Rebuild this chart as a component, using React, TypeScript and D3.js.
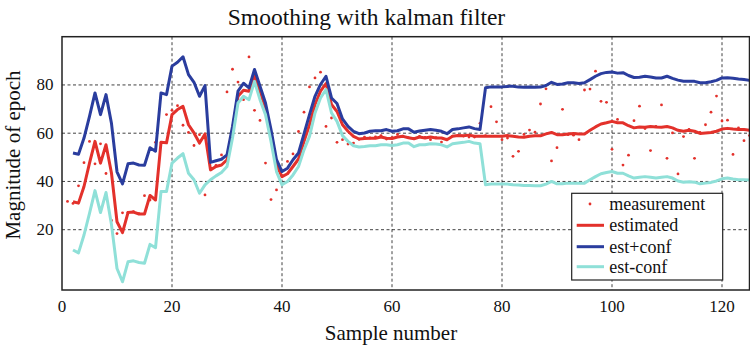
import React from "react";
import * as d3 from "d3";

const sampleStart = 2;
const measureStart = 1;

const measurement = [
  31.7, 30.9, 38.2, 47.8, 56.6, 47.3, 55.6, 43.3, 23.8, 18.4,
  27.0, 27.2, 27.5, 26.6, 34.1, 32.3, 56.2, 56.0, 67.7, 69.5,
  71.4, 63.3, 60.3, 54.9, 59.4, 34.4, 45.5, 46.7, 51.0, 77.1,
  86.5, 81.2, 73.9, 91.6, 69.5, 65.3, 47.6, 32.5, 36.5, 42.0,
  48.3, 51.4, 60.7, 68.7, 79.2, 82.9, 85.3, 62.8, 66.3, 56.2,
  57.3, 55.5, 55.9, 57.5, 58.4, 58.0, 58.5, 59.0, 57.6, 58.2,
  59.5, 58.8, 58.2, 57.8, 58.7, 58.3, 57.3, 58.2, 56.3, 57.5,
  58.8, 59.0, 58.8, 58.4, 58.4, 64.1, 59.0, 71.0, 64.7, 57.3,
  58.0, 50.4, 52.5, 59.5, 61.3, 60.4, 72.1, 78.4, 48.5, 54.0,
  69.9, 59.4, 59.2, 57.3, 77.9, 78.3, 85.7, 73.2, 72.8, 53.3,
  65.7, 46.8, 50.9, 65.2, 71.2, 61.9, 52.8, 62.8, 71.7, 49.6,
  60.1, 43.1, 58.6, 61.6, 49.6, 60.3, 63.5, 68.7, 75.4, 65.1,
  65.4, 51.2, 62.2, 56.9, 59.0,
];

const estimated = [
  31.6, 31.0, 37.9, 47.6, 56.6, 47.6, 55.2, 43.4, 23.3, 18.8,
  27.1, 27.3, 26.5, 26.5, 34.2, 32.3, 56.2, 56.0, 67.7, 69.8,
  71.1, 63.5, 60.1, 55.9, 59.7, 44.8, 46.2, 46.8, 49.0, 61.5,
  75.3, 77.8, 77.4, 84.3, 77.4, 70.5, 60.1, 46.9, 42.0, 43.2,
  46.2, 49.3, 56.6, 63.5, 71.9, 77.4, 80.6, 71.9, 69.0, 63.5,
  60.8, 58.7, 57.6, 57.8, 57.9, 57.9, 58.4, 57.9, 57.8, 58.4,
  58.7, 58.1, 57.7, 58.4, 58.0, 58.4, 58.0, 58.0, 57.3, 58.7,
  59.0, 58.9, 59.2, 58.7, 58.7, 58.7, 58.7, 58.7, 58.7, 59.0,
  58.7, 58.4, 58.3, 58.7, 58.9, 58.9, 59.7, 60.3, 59.4, 59.4,
  59.7, 59.9, 59.7, 59.7, 61.2, 62.6, 63.8, 64.3, 64.9, 64.3,
  64.3, 63.1, 62.2, 62.6, 62.5, 62.8, 62.6, 62.5, 62.8, 62.2,
  61.2, 60.8, 61.2, 60.8, 59.9, 60.1, 60.3, 60.8, 61.7, 62.0,
  61.7, 61.5, 61.5, 61.2,
];

const estPlusConf = [
  51.8, 51.3, 58.0, 67.0, 76.7, 67.7, 76.0, 64.0, 44.0, 39.0,
  47.3, 47.6, 46.8, 46.7, 54.0, 52.5, 76.7, 76.0, 87.8, 89.4,
  91.7, 84.3, 81.1, 75.3, 79.7, 47.9, 48.6, 49.2, 51.0, 62.8,
  77.4, 80.7, 78.8, 86.4, 79.5, 72.5, 61.5, 49.0, 44.1, 45.5,
  49.0, 51.8, 59.7, 67.7, 75.3, 80.2, 83.6, 74.6, 72.3, 65.9,
  62.8, 60.8, 59.8, 60.1, 60.8, 61.0, 61.0, 61.5, 60.8, 61.0,
  61.8, 61.8, 60.4, 60.9, 61.2, 61.5, 61.2, 60.8, 59.8, 61.5,
  61.8, 62.2, 62.6, 61.9, 61.5, 78.8, 79.2, 79.2, 79.2, 79.4,
  79.5, 79.1, 79.0, 79.1, 79.0, 79.1, 79.75, 81.1, 80.2, 80.4,
  80.9, 80.9, 80.6, 80.9, 82.2, 83.6, 84.7, 85.2, 85.4, 84.9,
  85.1, 83.9, 83.1, 83.2, 83.6, 83.3, 82.9, 82.9, 83.6, 82.7,
  82.0, 81.5, 81.5, 81.5, 80.9, 80.9, 81.3, 81.9, 82.9, 83.0,
  82.8, 82.5, 82.3, 81.9,
];

const estMinusConf = [
  11.6, 10.4, 17.8, 26.8, 36.2, 27.1, 35.4, 22.0, 3.9, -1.6,
  6.7, 7.1, 6.4, 6.1, 13.9, 12.5, 35.8, 35.8, 47.6, 49.7,
  51.5, 43.4, 40.7, 35.1, 38.6, 40.7, 42.3, 43.7, 46.2, 58.0,
  72.5, 75.3, 73.9, 81.5, 73.9, 67.7, 56.6, 44.1, 38.6, 40.0,
  42.7, 46.2, 53.1, 58.7, 68.4, 74.6, 78.1, 68.4, 64.9, 59.0,
  56.6, 54.8, 54.3, 54.5, 54.8, 54.8, 55.2, 55.2, 54.9, 55.2,
  55.9, 55.9, 54.4, 55.2, 55.2, 55.6, 55.5, 55.2, 54.3, 55.6,
  55.9, 56.2, 56.6, 55.9, 55.6, 38.6, 38.9, 38.9, 38.9, 38.9,
  38.6, 38.5, 38.3, 38.3, 38.2, 38.2, 38.9, 40.0, 39.0, 39.0,
  39.3, 39.3, 39.3, 39.3, 40.7, 42.0, 43.2, 43.7, 44.1, 43.4,
  43.4, 42.3, 41.4, 41.7, 42.0, 41.7, 41.4, 41.7, 42.0, 41.4,
  40.2, 39.7, 39.9, 39.7, 39.0, 39.3, 39.6, 40.2, 41.1, 41.4,
  41.0, 40.7, 40.7, 40.6,
];

const xTicks = [0, 20, 40, 60, 80, 100, 120];
const yTicks = [20, 40, 60, 80];
const legendLabels = ["measurement", "estimated", "est+conf", "est-conf"];
const title = "Smoothing with kalman filter";
const xLabel = "Sample number";
const yLabel = "Magnitude of epoch";

const W = 750;
const H = 347;
const L = 62, R = 749.5, T = 36.7, B = 290;
const FONT = "\"Liberation Serif\", \"DejaVu Serif\", \"Times New Roman\", serif";
const RED = "#e3312b";
const BLUE = "#2a3d9e";
const CYAN = "#8fe0d8";

export default function App() {
  const x = d3.scaleLinear().domain([0, 125]).range([L, R]);
  const y = d3.scaleLinear().domain([-5, 100]).range([B, T]);
  const line = d3
    .line<[number, number]>()
    .x((d) => x(d[0]))
    .y((d) => y(d[1]));
  const toPts = (arr: number[], start: number) =>
    arr.map((v, i) => [start + i, v] as [number, number]);

  const series = [
    { data: estimated, color: RED },
    { data: estPlusConf, color: BLUE },
    { data: estMinusConf, color: CYAN },
  ];

  const lgX = 571.7, lgY = 193.3, lgW = 151, lgH = 86.7;
  const rowY = [204, 225.3, 246.7, 266.7];
  const legendColors = [RED, RED, BLUE, CYAN];
  const textStyle = { fontFamily: FONT };

  return (
    <svg
      width={W}
      height={H}
      style={{ position: "absolute", left: 0, top: 0, background: "#fff", fontFamily: FONT }}
    >
      <rect x={0} y={0} width={W} height={H} fill="#fff" />
      <defs>
        <clipPath id="plotclip">
          <rect x={L} y={T} width={R - L} height={B - T} />
        </clipPath>
      </defs>
      {xTicks
        .filter((t) => t > 0)
        .map((t) => (
          <line
            key={"gx" + t}
            x1={x(t)}
            x2={x(t)}
            y1={T}
            y2={B}
            stroke="#111"
            strokeWidth={0.8}
            strokeDasharray="3,2.5"
          />
        ))}
      {yTicks.map((t) => (
        <line
          key={"gy" + t}
          x1={L}
          x2={R}
          y1={y(t)}
          y2={y(t)}
          stroke="#111"
          strokeWidth={0.8}
          strokeDasharray="3,2.5"
        />
      ))}
      <g clipPath="url(#plotclip)">
        {measurement.map((v, i) => (
          <circle
            key={"m" + i}
            cx={x(measureStart + i)}
            cy={y(v)}
            r={1.4}
            fill={RED}
          />
        ))}
        {series.map((s, k) => (
          <path
            key={"s" + k}
            d={line(toPts(s.data, sampleStart)) || ""}
            fill="none"
            stroke={s.color}
            strokeWidth={3}
            strokeLinejoin="round"
          />
        ))}
      </g>
      <rect
        x={L}
        y={T}
        width={R - L}
        height={B - T}
        fill="none"
        stroke="#222"
        strokeWidth={1.5}
      />
      {xTicks.map((t) => (
        <text
          key={"xt" + t}
          x={x(t)}
          y={312}
          textAnchor="middle"
          fontSize={17}
          fill="#111"
          style={textStyle}
        >
          {t}
        </text>
      ))}
      {yTicks.map((t) => (
        <text
          key={"yt" + t}
          x={53.5}
          y={y(t) + 5.5}
          textAnchor="end"
          fontSize={17}
          fill="#111"
          style={textStyle}
        >
          {t}
        </text>
      ))}
      <text x={366.5} y={25} textAnchor="middle" fontSize={23.5} fill="#111" style={textStyle}>
        {title}
      </text>
      <text x={391} y={340} textAnchor="middle" fontSize={21} fill="#111" style={textStyle}>
        {xLabel}
      </text>
      <text
        transform={`translate(19.5,155) rotate(-90)`}
        textAnchor="middle"
        fontSize={21}
        fill="#111"
        style={textStyle}
      >
        {yLabel}
      </text>
      <rect
        x={lgX}
        y={lgY}
        width={lgW}
        height={lgH}
        fill="#fff"
        stroke="#222"
        strokeWidth={1.2}
      />
      {legendLabels.map((lab, i) => (
        <g key={"lg" + i}>
          {i === 0 ? (
            <circle cx={590} cy={rowY[i]} r={1.4} fill={legendColors[i]} />
          ) : (
            <line
              x1={576.7}
              x2={604}
              y1={rowY[i]}
              y2={rowY[i]}
              stroke={legendColors[i]}
              strokeWidth={3}
            />
          )}
          <text x={609.3} y={rowY[i] + 6} fontSize={18} fill="#111" style={textStyle}>
            {lab}
          </text>
        </g>
      ))}
    </svg>
  );
}
